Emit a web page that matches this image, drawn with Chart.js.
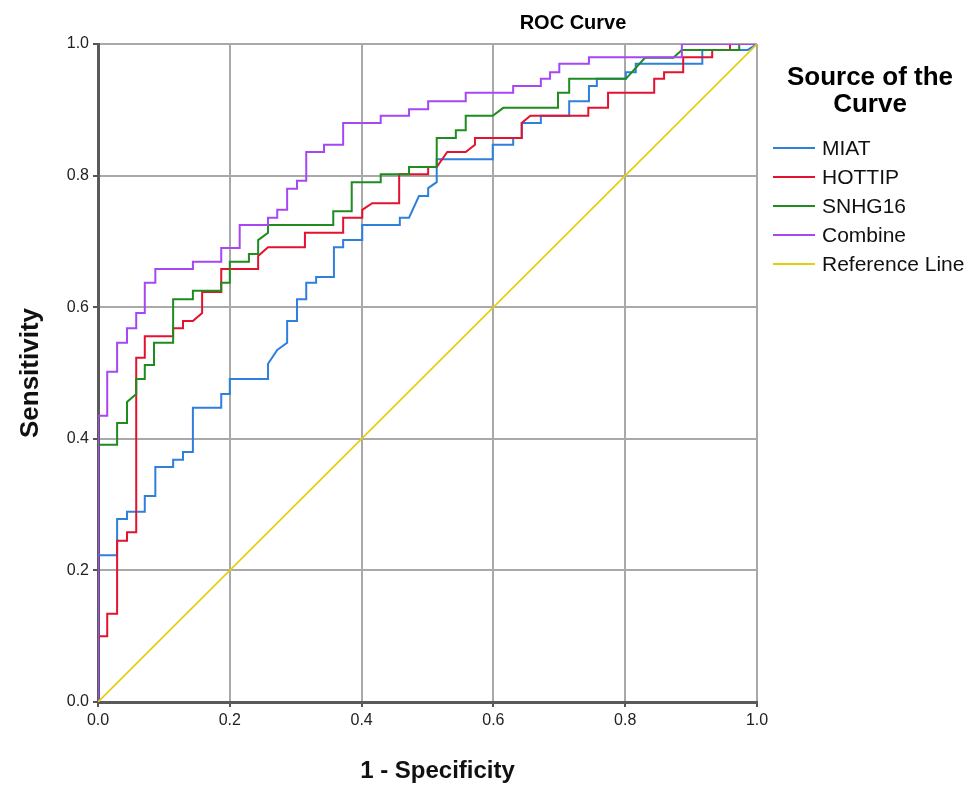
<!DOCTYPE html>
<html>
<head>
<meta charset="utf-8">
<script src="https://cdn.jsdelivr.net/npm/chart.js@4.4.1/dist/chart.umd.min.js"></script>
<style>
  body { margin: 0; background: #fff; }
  #wrap { width: 971px; height: 789px; }
</style>
</head>
<body>
<div id="wrap"><canvas id="rocChart" width="971" height="789"></canvas></div>
<script>
// ROC curve corners (1 - specificity, sensitivity)
const miatFpr = [0, 0, 0.029, 0.029, 0.044, 0.044, 0.071, 0.071, 0.087, 0.087, 0.114, 0.114, 0.129, 0.129, 0.144, 0.144, 0.187, 0.187, 0.200, 0.200, 0.258, 0.258, 0.272, 0.287, 0.287, 0.302, 0.302, 0.316, 0.316, 0.331, 0.331, 0.358, 0.358, 0.372, 0.372, 0.401, 0.401, 0.458, 0.458, 0.472, 0.487, 0.501, 0.501, 0.514, 0.514, 0.599, 0.599, 0.630, 0.630, 0.643, 0.643, 0.672, 0.672, 0.715, 0.715, 0.745, 0.745, 0.757, 0.757, 0.801, 0.801, 0.816, 0.816, 0.917, 0.917, 0.986, 1];
const miatTpr = [0, 0.223, 0.223, 0.278, 0.278, 0.289, 0.289, 0.313, 0.313, 0.357, 0.357, 0.368, 0.368, 0.380, 0.380, 0.447, 0.447, 0.468, 0.468, 0.491, 0.491, 0.514, 0.535, 0.546, 0.579, 0.579, 0.612, 0.612, 0.637, 0.637, 0.646, 0.646, 0.691, 0.691, 0.702, 0.702, 0.725, 0.725, 0.736, 0.736, 0.769, 0.769, 0.781, 0.790, 0.825, 0.825, 0.847, 0.847, 0.857, 0.857, 0.880, 0.880, 0.891, 0.891, 0.913, 0.913, 0.936, 0.936, 0.947, 0.947, 0.957, 0.957, 0.970, 0.970, 0.991, 0.991, 1];

const hottipFpr = [0, 0, 0.014, 0.014, 0.029, 0.029, 0.044, 0.044, 0.058, 0.058, 0.071, 0.071, 0.114, 0.114, 0.129, 0.129, 0.144, 0.158, 0.158, 0.187, 0.187, 0.243, 0.243, 0.258, 0.314, 0.314, 0.372, 0.372, 0.401, 0.401, 0.416, 0.457, 0.457, 0.501, 0.501, 0.514, 0.530, 0.558, 0.572, 0.572, 0.643, 0.643, 0.656, 0.744, 0.744, 0.774, 0.774, 0.844, 0.844, 0.859, 0.859, 0.888, 0.888, 0.932, 0.932, 0.959, 0.959, 1];
const hottipTpr = [0, 0.100, 0.100, 0.134, 0.134, 0.245, 0.245, 0.258, 0.258, 0.523, 0.523, 0.556, 0.556, 0.568, 0.568, 0.579, 0.579, 0.591, 0.623, 0.623, 0.658, 0.658, 0.678, 0.691, 0.691, 0.713, 0.713, 0.736, 0.736, 0.748, 0.758, 0.758, 0.802, 0.802, 0.813, 0.813, 0.836, 0.836, 0.847, 0.857, 0.857, 0.880, 0.891, 0.891, 0.903, 0.903, 0.926, 0.926, 0.947, 0.947, 0.957, 0.957, 0.980, 0.980, 0.991, 0.991, 1, 1];

const snhg16Fpr = [0, 0, 0.029, 0.029, 0.044, 0.044, 0.058, 0.058, 0.071, 0.071, 0.085, 0.085, 0.114, 0.114, 0.144, 0.144, 0.187, 0.187, 0.200, 0.200, 0.229, 0.229, 0.243, 0.243, 0.258, 0.258, 0.357, 0.357, 0.385, 0.385, 0.429, 0.429, 0.472, 0.472, 0.514, 0.514, 0.543, 0.543, 0.558, 0.558, 0.599, 0.615, 0.698, 0.698, 0.715, 0.715, 0.801, 0.830, 0.873, 0.886, 0.973, 0.973, 1];
const snhg16Tpr = [0, 0.391, 0.391, 0.424, 0.424, 0.456, 0.468, 0.491, 0.491, 0.512, 0.512, 0.546, 0.546, 0.612, 0.612, 0.625, 0.625, 0.637, 0.637, 0.669, 0.669, 0.681, 0.681, 0.702, 0.713, 0.725, 0.725, 0.746, 0.746, 0.790, 0.790, 0.802, 0.802, 0.813, 0.813, 0.857, 0.857, 0.869, 0.869, 0.891, 0.891, 0.903, 0.903, 0.926, 0.926, 0.947, 0.947, 0.979, 0.979, 0.991, 0.991, 1, 1];

const combineFpr = [0, 0, 0.014, 0.014, 0.029, 0.029, 0.044, 0.044, 0.058, 0.058, 0.071, 0.071, 0.087, 0.087, 0.144, 0.144, 0.187, 0.187, 0.215, 0.215, 0.258, 0.258, 0.272, 0.272, 0.287, 0.287, 0.302, 0.302, 0.316, 0.316, 0.343, 0.343, 0.372, 0.372, 0.429, 0.429, 0.472, 0.472, 0.501, 0.501, 0.558, 0.558, 0.630, 0.630, 0.672, 0.672, 0.686, 0.686, 0.700, 0.700, 0.745, 0.745, 0.886, 0.886, 1];
const combineTpr = [0, 0.435, 0.435, 0.502, 0.502, 0.546, 0.546, 0.568, 0.568, 0.591, 0.591, 0.637, 0.637, 0.658, 0.658, 0.669, 0.669, 0.690, 0.690, 0.725, 0.725, 0.736, 0.736, 0.748, 0.748, 0.780, 0.780, 0.792, 0.792, 0.836, 0.836, 0.847, 0.847, 0.880, 0.880, 0.891, 0.891, 0.901, 0.901, 0.913, 0.913, 0.926, 0.926, 0.936, 0.936, 0.947, 0.947, 0.957, 0.957, 0.970, 0.970, 0.980, 0.980, 1, 1];

const refFpr = [0, 1];
const refTpr = [0, 1];

const seriesNames = ['MIAT', 'HOTTIP', 'SNHG16', 'Combine', 'Reference Line'];
const seriesColors = ['#2f7fdc', '#e3122f', '#1e8c1e', '#a646f5', '#e2cf0a'];
const tickValues = [0, 0.2, 0.4, 0.6, 0.8, 1.0];

const FONT = "'Liberation Sans', Arial, sans-serif";

function toPoints(xs, ys) {
    return xs.map((x, i) => ({ x: x, y: ys[i] }));
}

const allSeries = [
    [miatFpr, miatTpr],
    [hottipFpr, hottipTpr],
    [snhg16Fpr, snhg16Tpr],
    [combineFpr, combineTpr],
    [refFpr, refTpr]
];

const datasets = allSeries.map((s, i) => ({
    label: seriesNames[i],
    data: toPoints(s[0], s[1]),
    borderColor: seriesColors[i],
    backgroundColor: seriesColors[i],
    borderWidth: i === 4 ? 1.6 : 2,
    showLine: true,
    pointRadius: 0,
    fill: false,
    tension: 0,
    order: 5 - i
}));

// chart title and the legend block on the right
const extraText = {
    id: 'extraText',
    afterDraw(chart) {
        const ctx = chart.ctx;
        ctx.save();
        ctx.fillStyle = '#000';
        ctx.textAlign = 'center';
        ctx.textBaseline = 'middle';
        ctx.font = 'bold 20px ' + FONT;
        ctx.fillText('ROC Curve', 573, 23);

        ctx.font = 'bold 26px ' + FONT;
        ctx.fillText('Source of the', 870, 78);
        ctx.fillText('Curve', 870, 105);

        ctx.font = '21px ' + FONT;
        ctx.textAlign = 'left';
        chart.data.datasets.forEach((ds, i) => {
            const y = 148 + i * 29;
            ctx.strokeStyle = ds.borderColor;
            ctx.lineWidth = 2;
            ctx.beginPath();
            ctx.moveTo(773, y);
            ctx.lineTo(815, y);
            ctx.stroke();
            ctx.fillStyle = '#111';
            ctx.fillText(ds.label, 822, y + 1);
        });
        ctx.restore();
    }
};

const axisCommon = {
    type: 'linear',
    min: 0,
    max: 1,
    afterBuildTicks: function(scale) {
        scale.ticks = tickValues.map(v => ({ value: v }));
    },
    grid: {
        color: '#a9a9a9',
        lineWidth: 2,
        tickLength: 5,
        tickColor: '#555'
    },
    border: { color: '#5a5a5a', width: 3 },
    ticks: {
        padding: 4,
        color: '#222',
        font: { family: FONT, size: 16 },
        callback: function(value) { return Number(value).toFixed(1); }
    }
};

new Chart(document.getElementById('rocChart'), {
    type: 'scatter',
    data: { datasets: datasets },
    options: {
        responsive: false,
        animation: false,
        layout: { padding: { top: 44, right: 214, left: 0, bottom: 0 } },
        plugins: {
            legend: { display: false },
            title: { display: false },
            tooltip: { enabled: false }
        },
        scales: {
            x: Object.assign({}, axisCommon, {
                position: 'bottom',
                afterFit: function(scale) { scale.height = 87; },
                title: {
                    display: true,
                    text: '\u00a0\u00a0\u00a01 - Specificity',
                    color: '#111',
                    font: { family: FONT, size: 24, weight: 'bold' },
                    padding: { top: 0, bottom: 3 }
                }
            }),
            y: Object.assign({}, axisCommon, {
                position: 'left',
                afterFit: function(scale) { scale.width = 98; },
                title: {
                    display: true,
                    text: 'Sensitivity',
                    color: '#111',
                    font: { family: FONT, size: 26, weight: 'bold' },
                    padding: { top: 15, bottom: 0 }
                }
            })
        }
    },
    plugins: [extraText]
});
</script>
</body>
</html>
